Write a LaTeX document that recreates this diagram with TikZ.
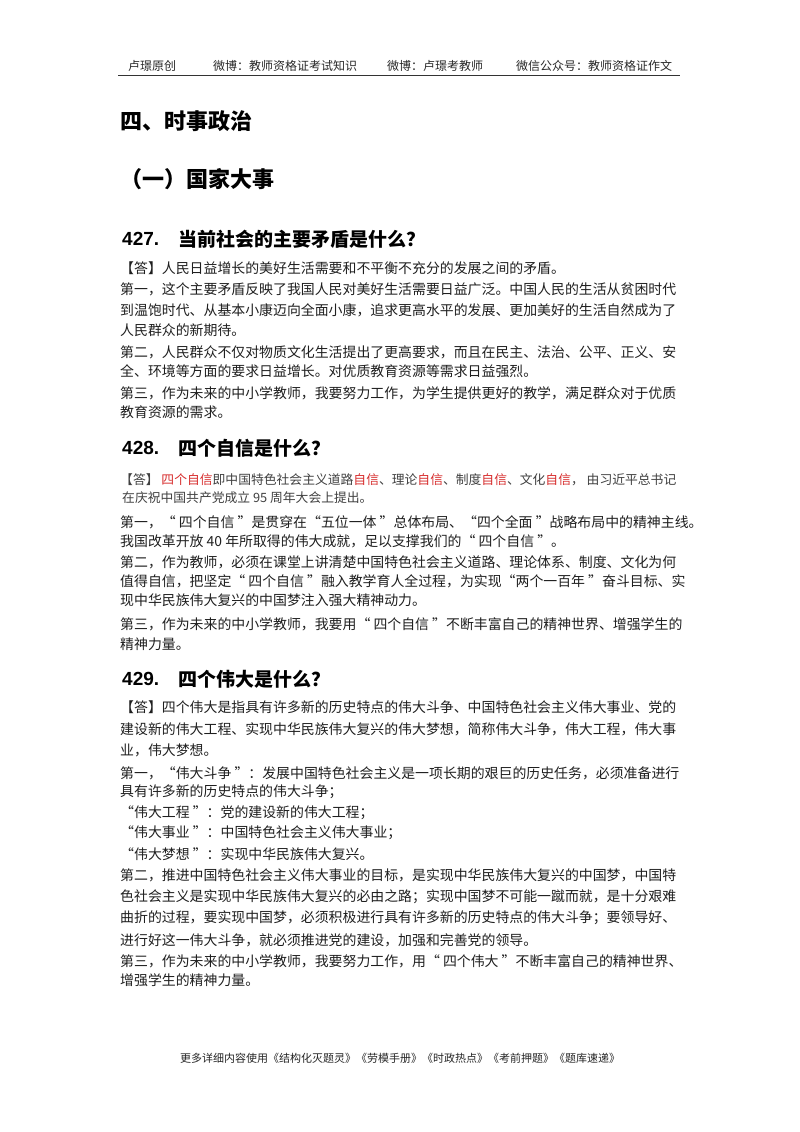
\documentclass[tikz,border=0pt]{standalone}
\usepackage{fontspec}
\setmainfont{Liberation Sans}
\newfontfamily\cjk{Noto Sans CJK SC}
\definecolor{redtxt}{RGB}{215,45,45}
\definecolor{hdr}{RGB}{40,40,40}
\begin{document}
\begin{tikzpicture}[x=1pt,y=-1pt,
  body/.style={anchor=west,inner sep=0pt,font=\cjk\fontsize{13.9}{14}\selectfont,text=black!88},
  small/.style={anchor=west,inner sep=0pt,font=\cjk\fontsize{12.8}{13}\selectfont,text=black!75},
  head/.style={anchor=west,inner sep=0pt,font=\cjk\bfseries\fontsize{22}{24}\selectfont},
  qhead/.style={anchor=west,inner sep=0pt,font=\cjk\bfseries\fontsize{19}{21}\selectfont},
  qnum/.style={anchor=west,inner sep=0pt,font=\bfseries\fontsize{19}{21}\selectfont},
  hdrtxt/.style={anchor=west,inner sep=0pt,font=\cjk\fontsize{12}{13}\selectfont,text=hdr}]
\useasboundingbox[fill=white] (0,0) rectangle (800,1132);
% header
\node[hdrtxt] (h1) at (128,66) {卢璟原创};
\node[hdrtxt] (h2) at (213,66) {微博：教师资格证考试知识};
\node[hdrtxt] (h3) at (387,66) {微博：卢璟考教师};
\node[hdrtxt] (h4) at (516,66) {微信公众号：教师资格证作文};
\coordinate (hl) at (118,75); \coordinate (hr) at (680,75);
\draw[line width=1pt,black!80] (hl) -- (hr);
% titles
\node[head] (t1) at (120,121) {四、时事政治};
\node[head] (t2) at (120,179) {（一）国家大事};
% 427
\node[qnum] (q427) at (122,239) {427.};
\node[qhead] (q427t) at (178,239) {当前社会的主要矛盾是什么？};
\node[body] (a1) at (120,268) {【答】人民日益增长的美好生活需要和不平衡不充分的发展之间的矛盾。};
\node[body] (a2) at (120,289) {第一，这个主要矛盾反映了我国人民对美好生活需要日益广泛。中国人民的生活从贫困时代};
\node[body] (a3) at (120,310) {到温饱时代、从基本小康迈向全面小康，追求更高水平的发展、更加美好的生活自然成为了};
\node[body] (a4) at (120,330) {人民群众的新期待。};
\node[body] (a5) at (120,352) {第二，人民群众不仅对物质文化生活提出了更高要求，而且在民主、法治、公平、正义、安};
\node[body] (a6) at (120,371) {全、环境等方面的要求日益增长。对优质教育资源等需求日益强烈。};
\node[body] (a7) at (120,393) {第三，作为未来的中小学教师，我要努力工作，为学生提供更好的教学，满足群众对于优质};
\node[body] (a8) at (120,412) {教育资源的需求。};
% 428
\node[qnum] (q428) at (122,448) {428.};
\node[qhead] (q428t) at (178,448) {四个自信是什么？};
\node[small] (b1) at (120,480) {【答】 \textcolor{redtxt}{四个自信}即中国特色社会主义道路\textcolor{redtxt}{自信}、理论\textcolor{redtxt}{自信}、制度\textcolor{redtxt}{自信}、文化\textcolor{redtxt}{自信}， 由习近平总书记};
\node[small] (b2) at (122,498) {在庆祝中国共产党成立 95 周年大会上提出。};
\node[body] (b3) at (120,522) {第一，“ 四个自信 ”是贯穿在“五位一体 ”总体布局、“四个全面 ”战略布局中的精神主线。};
\node[body] (b4) at (120,541) {我国改革开放 40 年所取得的伟大成就，足以支撑我们的“ 四个自信 ”。};
\node[body] (b5) at (120,562) {第二，作为教师，必须在课堂上讲清楚中国特色社会主义道路、理论体系、制度、文化为何};
\node[body] (b6) at (120,581) {值得自信，把坚定“ 四个自信 ”融入教学育人全过程，为实现“两个一百年 ”奋斗目标、实};
\node[body] (b7) at (120,600) {现中华民族伟大复兴的中国梦注入强大精神动力。};
\node[body] (b8) at (120,624) {第三，作为未来的中小学教师，我要用“ 四个自信 ”不断丰富自己的精神世界、增强学生的};
\node[body] (b9) at (120,644) {精神力量。};
% 429
\node[qnum] (q429) at (122,679) {429.};
\node[qhead] (q429t) at (178,679) {四个伟大是什么？};
\node[body] (c1) at (120,707) {【答】四个伟大是指具有许多新的历史特点的伟大斗争、中国特色社会主义伟大事业、党的};
\node[body] (c2) at (120,729) {建设新的伟大工程、实现中华民族伟大复兴的伟大梦想，简称伟大斗争，伟大工程，伟大事};
\node[body] (c3) at (120,750) {业，伟大梦想。};
\node[body] (c4) at (120,773) {第一，“伟大斗争 ”：发展中国特色社会主义是一项长期的艰巨的历史任务，必须准备进行};
\node[body] (c5) at (120,792) {具有许多新的历史特点的伟大斗争；};
\node[body] (c6) at (120,813) {“伟大工程 ”：党的建设新的伟大工程；};
\node[body] (c7) at (120,833) {“伟大事业 ”：中国特色社会主义伟大事业；};
\node[body] (c8) at (120,854) {“伟大梦想 ”：实现中华民族伟大复兴。};
\node[body] (c9) at (120,875) {第二，推进中国特色社会主义伟大事业的目标，是实现中华民族伟大复兴的中国梦，中国特};
\node[body] (c10) at (120,897) {色社会主义是实现中华民族伟大复兴的必由之路；实现中国梦不可能一蹴而就，是十分艰难};
\node[body] (c11) at (120,918) {曲折的过程，要实现中国梦，必须积极进行具有许多新的历史特点的伟大斗争；要领导好、};
\node[body] (c12) at (120,940) {进行好这一伟大斗争，就必须推进党的建设，加强和完善党的领导。};
\node[body] (c13) at (120,961) {第三，作为未来的中小学教师，我要努力工作，用“ 四个伟大 ”不断丰富自己的精神世界、};
\node[body] (c14) at (120,980) {增强学生的精神力量。};
% footer
\node[inner sep=0pt,font=\cjk\fontsize{11}{12}\selectfont,text=black!85] (ft) at (400,1058) {更多详细内容使用《结构化灭题灵》《劳模手册》《时政热点》《考前押题》《题库速递》};
\end{tikzpicture}
\end{document}
